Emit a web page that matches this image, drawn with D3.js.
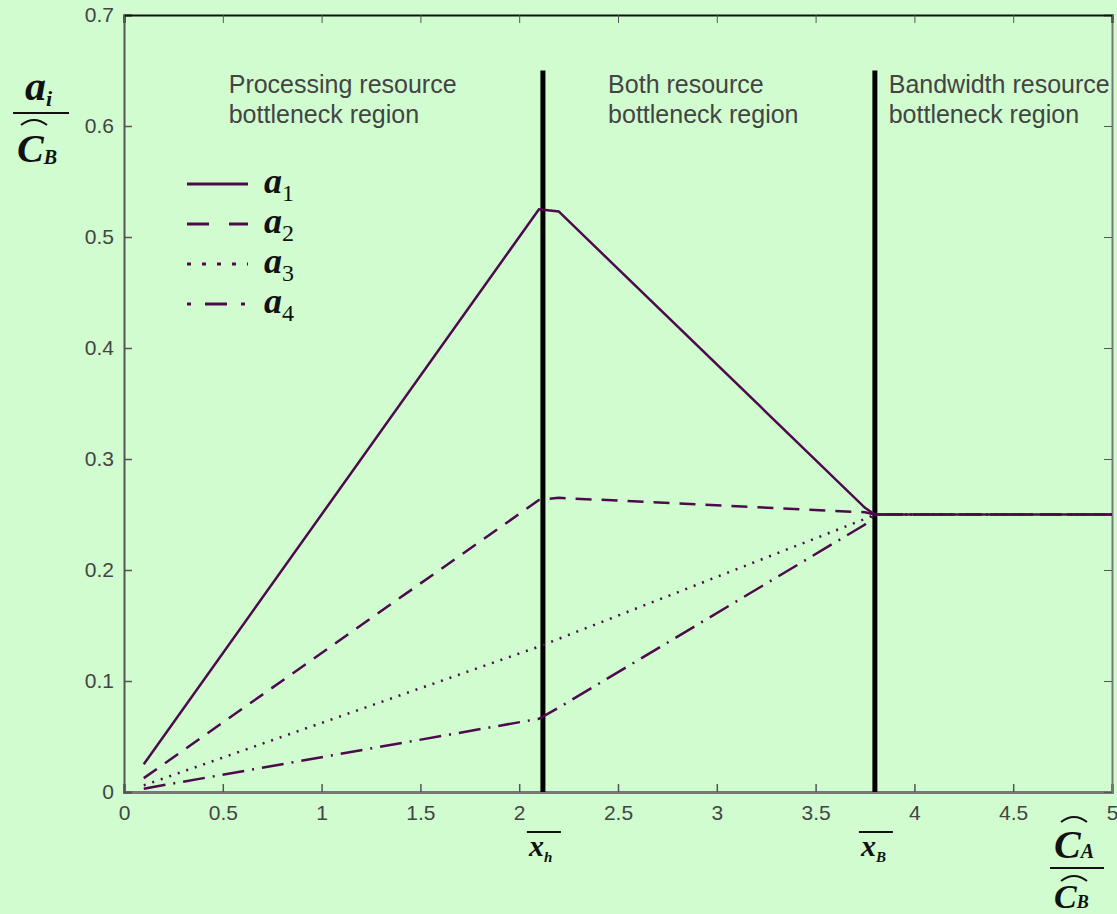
<!DOCTYPE html>
<html lang="en">
<head>
<meta charset="utf-8">
<title>Bottleneck regions</title>
<script src="https://d3js.org/d3.v7.min.js"></script>
<style>
  html, body { margin: 0; padding: 0; background: #d0fcd0; }
  .region { font-family: "Liberation Sans", Arial, sans-serif; font-size: 25px; fill: #444; }
  .math { font-family: "Liberation Serif", "Times New Roman", serif; font-style: italic; font-weight: bold; fill: #111; }
</style>
</head>
<body>
<script>
  // values
  var xPoints = [0.1, 2.1, 2.2, 3.75, 3.8, 5];
  var a1 = [0.025, 0.525, 0.523, 0.256, 0.25, 0.25];
  var a2 = [0.0125, 0.263, 0.265, 0.252, 0.25, 0.25];
  var a3 = [0.006, 0.131, 0.138, 0.246, 0.25, 0.25];
  var a4 = [0.003, 0.066, 0.076, 0.241, 0.25, 0.25];
  var seriesNames = ["1", "2", "3", "4"];
  var xTicks = [0, 0.5, 1, 1.5, 2, 2.5, 3, 3.5, 4, 4.5, 5];
  var yTicks = [0, 0.1, 0.2, 0.3, 0.4, 0.5, 0.6, 0.7];
  var boundaries = [2.12, 3.8];
  var regionLabels = [
    ["Processing resource", "bottleneck region"],
    ["Both resource", "bottleneck region"],
    ["Bandwidth resource", "bottleneck region"]
  ];

  var width = 1117, height = 914;
  var x = d3.scaleLinear().domain([0, 5]).range([124, 1112]);
  var y = d3.scaleLinear().domain([0, 0.7]).range([792, 15]);

  var svg = d3.select("body").append("svg")
      .attr("width", width).attr("height", height)
      .style("display", "block")
      .style("background", "#d0fcd0");

  function styleTicks(g) {
    g.selectAll(".tick text")
     .style("font-family", "'Liberation Sans', Arial, sans-serif")
     .style("font-size", "21px")
     .style("fill", "#444");
  }

  // axes, ticks pointing inward
  svg.append("g").attr("transform", "translate(0,792)")
     .call(d3.axisBottom(x).tickValues(xTicks).tickSize(-8).tickPadding(13)
           .tickFormat(function(d){ return d3.format("")(d); }))
     .call(function(g){
        g.select(".domain").attr("stroke", "#777").attr("stroke-width", 3);
        g.selectAll(".tick line").attr("stroke", "#555").attr("stroke-width", 1.5);
        styleTicks(g);
     });
  svg.append("g").attr("transform", "translate(124,0)")
     .call(d3.axisLeft(y).tickValues(yTicks).tickSize(-8).tickPadding(10)
           .tickFormat(function(d){ return d3.format("")(d); }))
     .call(function(g){
        g.select(".domain").attr("stroke", "#555").attr("stroke-width", 2);
        g.selectAll(".tick line").attr("stroke", "#555").attr("stroke-width", 1.5);
        styleTicks(g);
     });
  svg.append("g").attr("transform", "translate(1112,0)")
     .call(d3.axisRight(y).tickValues(yTicks).tickSize(-8).tickFormat(""))
     .call(function(g){
        g.select(".domain").attr("stroke", "#777").attr("stroke-width", 2);
        g.selectAll(".tick line").attr("stroke", "#555");
     });
  svg.append("g").attr("transform", "translate(0,15)")
     .call(d3.axisTop(x).tickValues(xTicks).tickSize(-8).tickFormat(""))
     .call(function(g){
        g.select(".domain").attr("stroke", "#111").attr("stroke-width", 2);
        g.selectAll(".tick line").attr("stroke", "#555");
     });

  // region boundaries
  svg.selectAll("line.bound").data(boundaries).enter().append("line")
     .attr("class", "bound")
     .attr("x1", function(d){ return x(d); }).attr("x2", function(d){ return x(d); })
     .attr("y1", y(0.65)).attr("y2", y(0))
     .attr("stroke", "#000").attr("stroke-width", 5);

  // region labels
  var labelX = [0.53, 2.45, 3.87];
  regionLabels.forEach(function(lines, i){
    var t = svg.append("text").attr("class", "region")
       .attr("x", x(labelX[i])).attr("y", 93);
    lines.forEach(function(s, j){
      t.append("tspan").attr("x", x(labelX[i])).attr("dy", j === 0 ? 0 : 30).text(s);
    });
  });

  // series
  var series = [a1, a2, a3, a4];
  var dashes = [null, "16,10", "2,7", "22,8,2,8"];
  var line = d3.line()
      .x(function(d){ return x(d[0]); })
      .y(function(d){ return y(d[1]); });
  series.forEach(function(vals, i){
    svg.append("path")
       .datum(xPoints.map(function(xv, k){ return [xv, vals[k]]; }))
       .attr("d", line)
       .attr("fill", "none")
       .attr("stroke", "#4d0a4d")
       .attr("stroke-width", 2.5)
       .attr("stroke-dasharray", dashes[i]);
  });

  // legend
  var legDash = [null, "22,20", "4,11", "4,14,22,14,4"];
  seriesNames.forEach(function(n, i){
    var ly = 184 + i * 40;
    svg.append("line").attr("x1", 187).attr("x2", 248)
       .attr("y1", ly).attr("y2", ly)
       .attr("stroke", "#4d0a4d").attr("stroke-width", 3)
       .attr("stroke-dasharray", legDash[i]);
    var t = svg.append("text").attr("class", "math")
       .attr("x", 264).attr("y", ly + 9).attr("font-size", 36).text("a");
    t.append("tspan").attr("dy", 8).attr("font-size", 24)
       .attr("font-style", "normal").attr("font-weight", "normal").text(n);
  });

  // small hat drawn as a path
  function hat(cx, cy, w) {
    svg.append("path")
       .attr("d", "M" + (cx - w / 2) + "," + (cy + 4) + " Q" + cx + "," + (cy - 6) + " " + (cx + w / 2) + "," + (cy + 4))
       .attr("fill", "none").attr("stroke", "#111").attr("stroke-width", 2);
  }

  // y-axis label: a_i over C^_B
  var yl = svg.append("g").attr("class", "math");
  var ya = yl.append("text").attr("x", 25).attr("y", 100).attr("font-size", 42).text("a");
  ya.append("tspan").attr("dy", 6).attr("font-size", 22).text("i");
  yl.append("line").attr("x1", 13).attr("x2", 69).attr("y1", 113).attr("y2", 113)
    .attr("stroke", "#111").attr("stroke-width", 2);
  hat(34, 121, 26);
  var yc = yl.append("text").attr("x", 17).attr("y", 162).attr("font-size", 40).text("C");
  yc.append("tspan").attr("dy", 2).attr("font-size", 20).text("B");

  // x-axis label: C^_A over C^_B
  var xl = svg.append("g").attr("class", "math");
  hat(1074, 818, 26);
  var xa = xl.append("text").attr("x", 1054).attr("y", 858).attr("font-size", 40).text("C");
  xa.append("tspan").attr("dy", 0).attr("font-size", 20).text("A");
  xl.append("line").attr("x1", 1050).attr("x2", 1104).attr("y1", 868).attr("y2", 868)
    .attr("stroke", "#111").attr("stroke-width", 2);
  hat(1074, 877, 26);
  var xb = xl.append("text").attr("x", 1054).attr("y", 908).attr("font-size", 34).text("C");
  xb.append("tspan").attr("dy", 0).attr("font-size", 18).text("B");

  // boundary markers under the axis
  var markSubs = ["h", "B"];
  boundaries.forEach(function(b, i){
    var cx = x(b);
    svg.append("line").attr("x1", cx - 16).attr("x2", cx + 18)
       .attr("y1", 832).attr("y2", 832).attr("stroke", "#111").attr("stroke-width", 2);
    var t = svg.append("text").attr("class", "math")
       .attr("x", cx - 14).attr("y", 856).attr("font-size", 30).text("x");
    t.append("tspan").attr("dy", 6).attr("font-size", 15).text(markSubs[i]);
  });
</script>
</body>
</html>
